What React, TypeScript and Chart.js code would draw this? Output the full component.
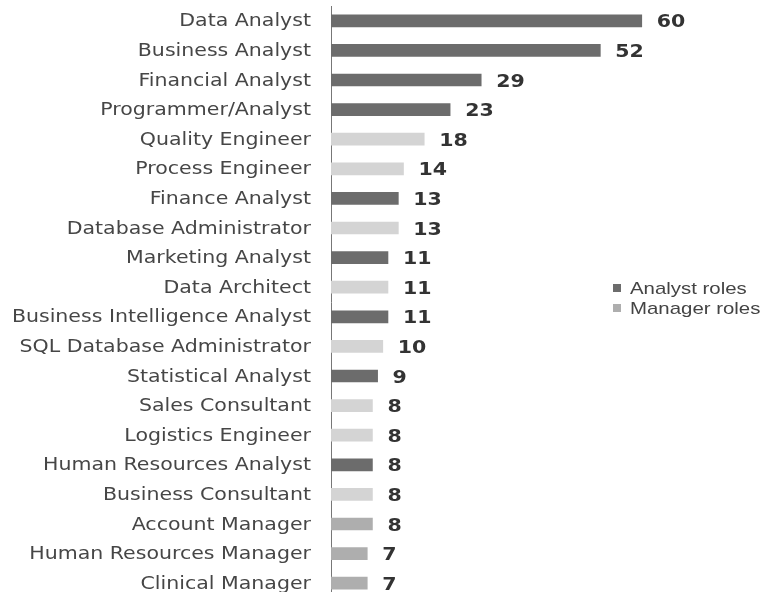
import React, { useEffect, useRef } from "react";
import { Chart, registerables } from "chart.js";

Chart.register(...registerables);

const categories: string[] = [
  "Data Analyst",
  "Business Analyst",
  "Financial Analyst",
  "Programmer/Analyst",
  "Quality Engineer",
  "Process Engineer",
  "Finance Analyst",
  "Database Administrator",
  "Marketing Analyst",
  "Data Architect",
  "Business Intelligence Analyst",
  "SQL Database Administrator",
  "Statistical Analyst",
  "Sales Consultant",
  "Logistics Engineer",
  "Human Resources Analyst",
  "Business Consultant",
  "Account Manager",
  "Human Resources Manager",
  "Clinical Manager",
];

const counts: number[] = [60, 52, 29, 23, 18, 14, 13, 13, 11, 11, 11, 10, 9, 8, 8, 8, 8, 8, 7, 7];

const isAnalyst: boolean[] = [
  true, true, true, true, false, false, true, false, true, false,
  true, false, true, false, false, true, false, false, false, false,
];

const seriesNames: string[] = ["Analyst roles", "Manager roles"];

const analystValues = counts.map((v, i) => (isAnalyst[i] ? v : null));
const managerValues = counts.map((v, i) => (isAnalyst[i] ? null : v));

const DARK = "#6c6c6c";
const LIGHT = "#d4d4d4";
const MEDIUM = "#aeaeae";

function stretchedText(ctx: any, text: string, x: number, y: number, sx: number) {
  ctx.save();
  ctx.translate(x, y);
  ctx.scale(sx, 1);
  ctx.fillText(text, 0, 0);
  ctx.restore();
}

const categoryLabelPlugin = {
  id: "categoryLabels",
  afterDraw(chart: any) {
    const ctx = chart.ctx;
    const yScale = chart.scales.y;
    ctx.save();
    ctx.font = "18px 'DejaVu Sans'";
    ctx.fillStyle = "#464646";
    ctx.textAlign = "right";
    ctx.textBaseline = "middle";
    categories.forEach((label, i) => {
      const y = yScale.getPixelForTick(i);
      stretchedText(ctx, label, yScale.right - 20, y + 1, 1.14);
    });
    ctx.restore();
  },
};

const valueLabelPlugin = {
  id: "valueLabels",
  afterDatasetsDraw(chart: any) {
    const ctx = chart.ctx;
    ctx.save();
    ctx.font = "bold 18px 'DejaVu Sans'";
    ctx.fillStyle = "#333333";
    ctx.textAlign = "left";
    ctx.textBaseline = "middle";
    chart.data.datasets.forEach((ds: any, di: number) => {
      const meta = chart.getDatasetMeta(di);
      meta.data.forEach((bar: any, i: number) => {
        const v = ds.data[i];
        if (v === null || v === undefined) return;
        stretchedText(ctx, String(v), bar.x + 15, bar.y + 2, 1.14);
      });
    });
    ctx.restore();
  },
};

const legendPlugin = {
  id: "customLegend",
  afterDraw(chart: any) {
    const ctx = chart.ctx;
    ctx.save();
    const x = 613;
    const ys = [288, 308];
    const colors = [DARK, MEDIUM];
    ctx.font = "17px 'Liberation Sans'";
    ctx.textBaseline = "middle";
    ctx.textAlign = "left";
    seriesNames.forEach((name, i) => {
      ctx.fillStyle = colors[i];
      ctx.fillRect(x, ys[i] - 4, 8, 8);
      ctx.fillStyle = "#444444";
      stretchedText(ctx, name, x + 17, ys[i] + 1, 1.2);
    });
    ctx.restore();
  },
};

export default function App() {
  const ref = useRef<HTMLCanvasElement | null>(null);

  useEffect(() => {
    if (!ref.current) return;
    const chart = new Chart(ref.current, {
      type: "bar",
      data: {
        labels: categories,
        datasets: [
          {
            label: seriesNames[0],
            data: analystValues,
            backgroundColor: DARK,
            barThickness: 12,
          },
          {
            label: seriesNames[1],
            data: managerValues,
            backgroundColor: (c: any) =>
              String(categories[c.dataIndex] || "").includes("Manager") ? MEDIUM : LIGHT,
            barThickness: 12,
          },
        ],
      },
      options: {
        indexAxis: "y",
        animation: false,
        responsive: false,
        maintainAspectRatio: false,
        layout: { padding: { top: 6, bottom: 2, left: 0, right: 0 } },
        plugins: {
          legend: { display: false },
          tooltip: { enabled: false },
        },
        scales: {
          x: {
            display: false,
            min: 0,
            max: 83.6,
          },
          y: {
            stacked: true,
            grid: { display: false, drawTicks: false },
            border: { display: true, color: "#777777", width: 1 },
            ticks: { display: false },
            afterFit: (scale: any) => {
              scale.width = 331;
            },
          },
        },
      },
      plugins: [valueLabelPlugin, categoryLabelPlugin, legendPlugin],
    } as any);
    return () => chart.destroy();
  }, []);

  return (
    <div style={{ position: "absolute", left: 0, top: 0, width: 764, height: 592, overflow: "hidden", background: "#fff" }}>
      <canvas ref={ref} width={764} height={600} style={{ display: "block", width: 764, height: 600 }} />
    </div>
  );
}
